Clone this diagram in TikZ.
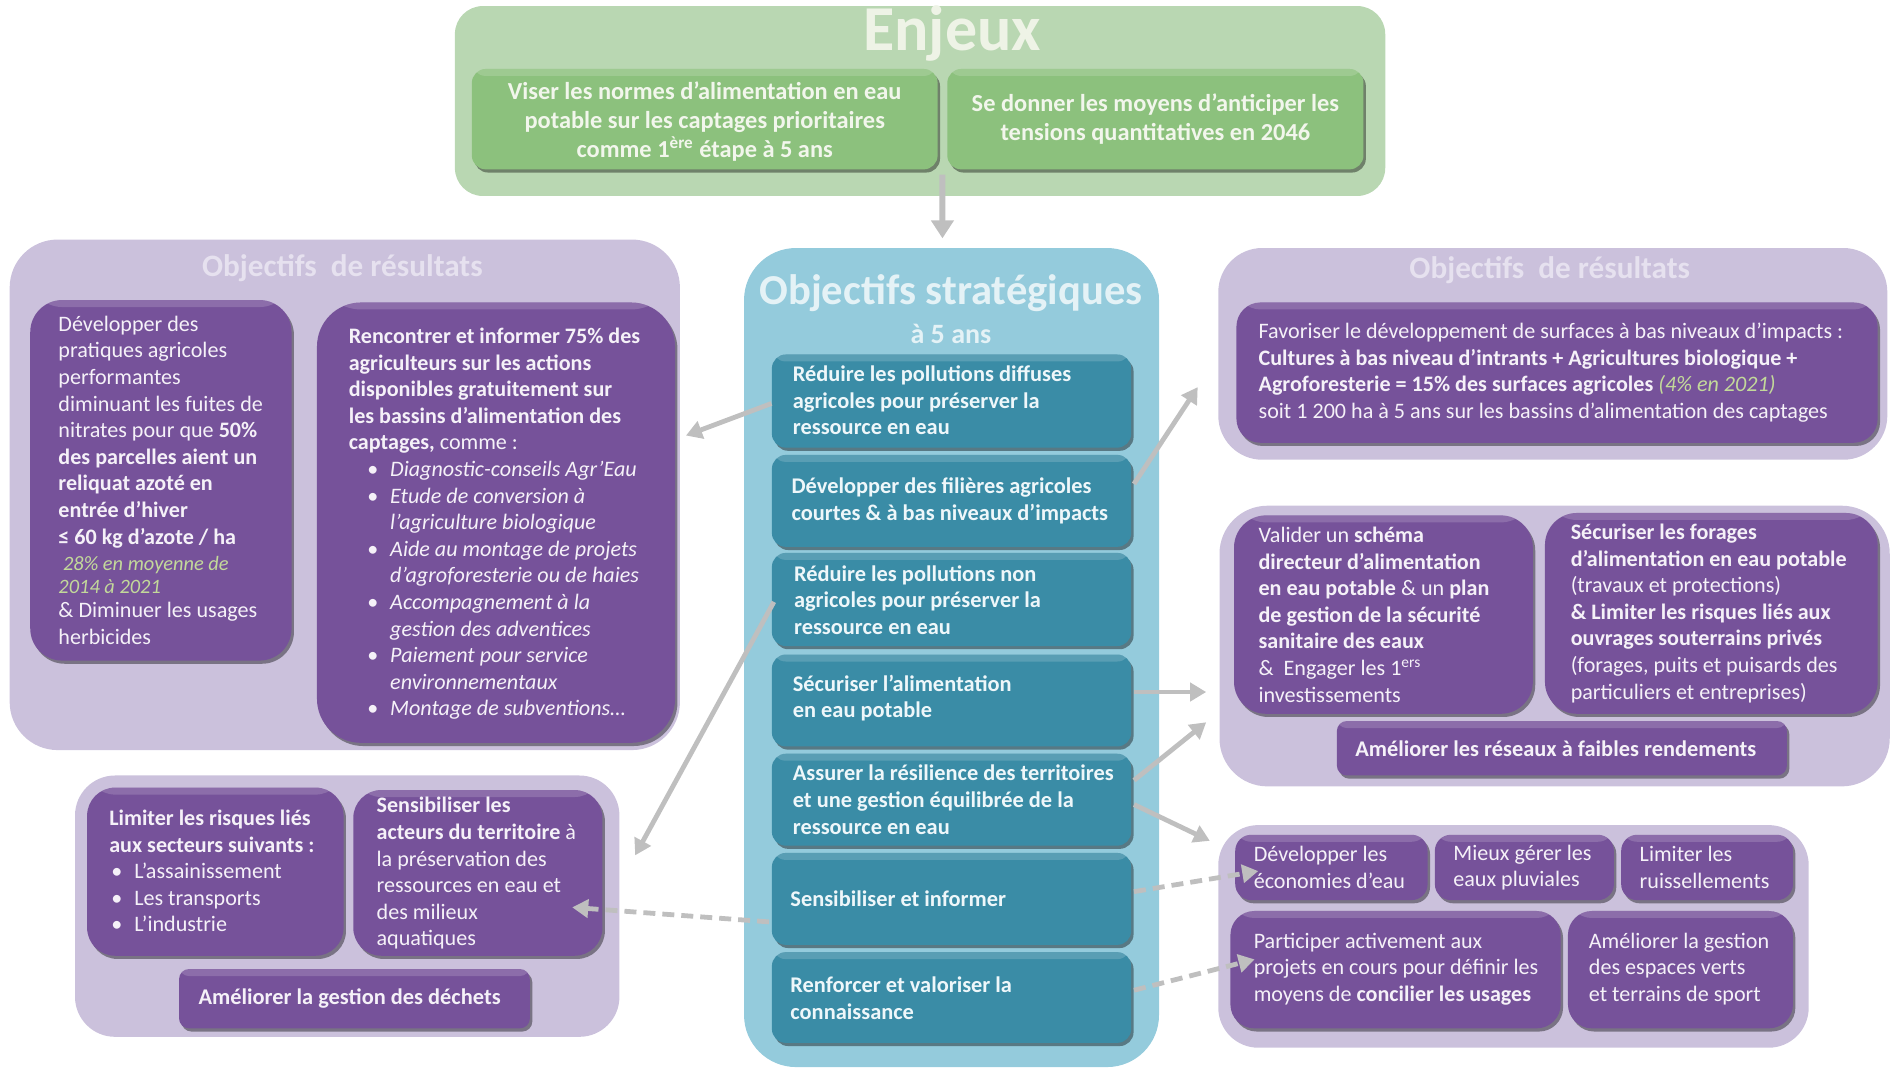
\documentclass[tikz,border=0pt]{standalone}
\usepackage{fontspec}
\setmainfont{Carlito}
\usetikzlibrary{shadows,fit,calc,arrows.meta}
\definecolor{engOut}{HTML}{B9D7B2}
\definecolor{engBox}{HTML}{8CC17D}
\definecolor{engTxt}{HTML}{F2F6EC}
\definecolor{engTtl}{HTML}{EEF3E6}
\definecolor{purOut}{HTML}{CBC1DC}
\definecolor{purBox}{HTML}{76529A}
\definecolor{purTxt}{HTML}{F5F1F8}
\definecolor{purTtl}{HTML}{E6E1EF}
\definecolor{bluOut}{HTML}{94CBDC}
\definecolor{bluBox}{HTML}{3A8CA6}
\definecolor{bluTxt}{HTML}{EEF7FA}
\definecolor{bluTtl}{HTML}{E4F2F6}
\definecolor{grn}{HTML}{C3D99A}
\definecolor{arrc}{HTML}{BFBFBF}
\newcommand\bul{\makebox[11.5pt][l]{\textbullet}}
\newcommand\bind{\hspace*{9.2pt}}
\begin{document}
\begin{tikzpicture}[x=0.6049pt, y=-0.6049pt,
  outer/.style={fill=#1, inner sep=0pt, rounded corners=16pt},
  ibox/.style={fill=#1, inner sep=0pt, rounded corners=7pt,
    drop shadow={shadow xshift=1.2pt, shadow yshift=-1.6pt, opacity=0.4, fill=black},
    path picture={\fill[white, opacity=0.16] (path picture bounding box.north west) rectangle ([yshift=-3.5pt]path picture bounding box.north east);}},
  ptxt/.style={text=purTxt, align=left, inner sep=0pt, font=\fontsize{11.05}{13.3}\selectfont},
  btxt/.style={text=bluTxt, align=left, inner sep=0pt, font=\bfseries\fontsize{11.2}{13.3}\selectfont},
  etxt/.style={text=engTxt, align=center, inner sep=0pt, font=\bfseries\fontsize{12.2}{14.5}\selectfont},
  rtitle/.style={text=purTtl, inner sep=0pt, font=\bfseries\fontsize{15.6}{18}\selectfont},
  arr/.style={draw=arrc, line width=2.4pt, -{Triangle[length=8pt,width=9pt]}},
  darr/.style={arr, dash pattern=on 6pt off 3.5pt}
]
\useasboundingbox (0,0) rectangle (1568,882);

% ---------- Enjeux ----------
\node[outer=engOut, rounded corners=14pt, fit={(376,5)(1145,162)}] (enj) {};
\node[text=engTtl, inner sep=0pt, font=\bfseries\fontsize{32}{34}\selectfont] (tenj) at (787,28) {Enjeux};
\node[ibox=engBox, fit={(390,57)(775,140)}] (e1) {};
\node[ibox=engBox, fit={(783,57)(1127,140)}] (e2) {};
\node[etxt] (e1t) at ([yshift=-1pt]e1.center) {Viser les normes d’alimentation en eau\\potable sur les captages prioritaires\\comme 1\textsuperscript{ère} étape à 5 ans};
\node[etxt] (e2t) at (e2.center) {Se donner les moyens d’anticiper les\\tensions quantitatives en 2046};

% ---------- Left results ----------
\node[outer=purOut, rounded corners=24pt, fit={(8,198)(562,620)}] (lout) {};
\node[rtitle] (tl) at (283,222) {Objectifs\ \ de résultats};
\node[ibox=purBox, rounded corners=16pt, fit={(25,248)(241,546)}] (l1) {};
\node[ibox=purBox, rounded corners=22pt, fit={(262,250)(558,614)}] (l2) {};
\node[ptxt, anchor=west] (l1t) at (48,397) {Développer des\\pratiques agricoles\\performantes\\diminuant les fuites de\\nitrates pour que \textbf{50\%}\\\textbf{des parcelles aient un}\\\textbf{reliquat azoté en}\\\textbf{entrée d’hiver}\\\textbf{≤ 60 kg d’azote / ha}\\{\color{grn}\itshape\fontsize{10.2}{11}\selectfont\ 28\% en moyenne de}\\[-2pt]{\color{grn}\itshape\fontsize{10.2}{11}\selectfont 2014 à 2021}\\[-1pt]\& Diminuer les usages\\herbicides};
\node[ptxt, anchor=west] (l2t) at (288,433) {\textbf{Rencontrer et informer 75\% des}\\\textbf{agriculteurs sur les actions}\\\textbf{disponibles gratuitement sur}\\\textbf{les bassins d’alimentation des}\\\textbf{captages,} comme :\\
\itshape\bind\bul Diagnostic-conseils Agr’Eau\\
\itshape\bind\bul Etude de conversion à\\\itshape\bind\hspace*{11.5pt}l’agriculture biologique\\
\itshape\bind\bul Aide au montage de projets\\\itshape\bind\hspace*{11.5pt}d’agroforesterie ou de haies\\
\itshape\bind\bul Accompagnement à la\\\itshape\bind\hspace*{11.5pt}gestion des adventices\\
\itshape\bind\bul Paiement pour service\\\itshape\bind\hspace*{11.5pt}environnementaux\\
\itshape\bind\bul Montage de subventions…};

% ---------- Center strategic ----------
\node[outer=bluOut, rounded corners=26pt, fit={(615,205)(958,882)}] (strat) {};
\node[text=bluTtl, inner sep=0pt, font=\bfseries\fontsize{21.3}{23}\selectfont] (tstrat) at (786,242) {Objectifs stratégiques};
\node[text=bluTtl, inner sep=0pt, font=\bfseries\fontsize{14}{16}\selectfont] (tans) at (786,276) {à 5 ans};
\node[ibox=bluBox, fit={(638,293)(935,370)}] (c1) {};
\node[ibox=bluBox, fit={(638,376)(935,452)}] (c2) {};
\node[ibox=bluBox, fit={(638,457)(935,534)}] (c3) {};
\node[ibox=bluBox, fit={(638,541)(935,617)}] (c4) {};
\node[ibox=bluBox, fit={(638,623)(935,699)}] (c5) {};
\node[ibox=bluBox, fit={(638,705)(935,781)}] (c6) {};
\node[ibox=bluBox, fit={(638,787)(935,862)}] (c7) {};
\node[btxt, anchor=west] (c1t) at (655,331) {Réduire les pollutions diffuses\\agricoles pour préserver la\\ressource en eau};
\node[btxt, anchor=west] (c2t) at (654,414) {Développer des filières agricoles\\courtes \& à bas niveaux d’impacts};
\node[btxt, anchor=west] (c3t) at (656,496) {Réduire les pollutions non\\agricoles pour préserver la\\ressource en eau};
\node[btxt, anchor=west] (c4t) at (655,577) {Sécuriser l’alimentation\\en eau potable};
\node[btxt, anchor=west] (c5t) at (655,661) {Assurer la résilience des territoires\\et une gestion équilibrée de la\\ressource en eau};
\node[btxt, anchor=west] (c6t) at (653,743) {Sensibiliser et informer};
\node[btxt, anchor=west] (c7t) at (653,825) {Renforcer et valoriser la\\connaissance};

% ---------- Right top ----------
\node[outer=purOut, rounded corners=22pt, fit={(1007,205)(1560,380)}] (rtout) {};
\node[rtitle] (trt) at (1281,223) {Objectifs\ \ de résultats};
\node[ibox=purBox, rounded corners=12pt, fit={(1022,250)(1552,366)}] (rt) {};
\node[ptxt, anchor=west] (rtt) at (1040,308) {Favoriser le développement de surfaces à bas niveaux d’impacts :\\\textbf{Cultures à bas niveau d’intrants + Agricultures biologique +}\\\textbf{Agroforesterie = 15\% des surfaces agricoles} {\color{grn}\itshape (4\% en 2021)}\\soit 1 200 ha à 5 ans sur les bassins d’alimentation des captages};

% ---------- Right middle ----------
\node[outer=purOut, rounded corners=24pt, fit={(1008,418)(1562,650)}] (rmout) {};
\node[ibox=purBox, rounded corners=16pt, fit={(1020,426)(1267,590)}] (rma) {};
\node[ibox=purBox, rounded corners=16pt, fit={(1277,424)(1552,590)}] (rmb) {};
\node[ibox=purBox, rounded corners=5pt, fit={(1105,596)(1477,641)}] (rmc) {};
\node[ptxt, anchor=west] (rmat) at (1040,508) {Valider un \textbf{schéma}\\\textbf{directeur d’alimentation}\\\textbf{en eau potable} \& un \textbf{plan}\\\textbf{de gestion de la sécurité}\\\textbf{sanitaire des eaux}\\\&\ \ Engager les 1\textsuperscript{ers}\\investissements};
\node[ptxt, anchor=west] (rmbt) at (1298,507) {\textbf{Sécuriser les forages}\\\textbf{d’alimentation en eau potable}\\(travaux et protections)\\\textbf{\& Limiter les risques liés aux}\\\textbf{ouvrages souterrains privés}\\(forages, puits et puisards des\\particuliers et entreprises)};
\node[ptxt, font=\bfseries\fontsize{11.2}{13.3}\selectfont] (rmct) at (1286,619) {Améliorer les réseaux à faibles rendements};

% ---------- Right bottom ----------
\node[outer=purOut, rounded corners=20pt, fit={(1007,682)(1495,866)}] (rbout) {};
\node[ibox=purBox, rounded corners=8pt, fit={(1021,690)(1180,744)}] (rb1) {};
\node[ibox=purBox, rounded corners=8pt, fit={(1186,690)(1334,744)}] (rb2) {};
\node[ibox=purBox, rounded corners=8pt, fit={(1340,690)(1482,744)}] (rb3) {};
\node[ibox=purBox, rounded corners=12pt, fit={(1017,753)(1290,850)}] (rb4) {};
\node[ibox=purBox, rounded corners=12pt, fit={(1296,753)(1482,850)}] (rb5) {};
\node[ptxt, anchor=west] (rb1t) at (1036,717) {Développer les\\économies d'eau};
\node[ptxt, anchor=west] (rb2t) at (1201,717) {Mieux gérer les\\eaux pluviales};
\node[ptxt, anchor=west] (rb3t) at (1355,717) {Limiter les\\ruissellements};
\node[ptxt, anchor=west] (rb4t) at (1036,801) {Participer activement aux\\projets en cours pour définir les\\moyens de \textbf{concilier les usages}};
\node[ptxt, anchor=west] (rb5t) at (1313,801) {Améliorer la gestion\\des espaces verts\\et terrains de sport};

% ---------- Bottom left ----------
\node[outer=purOut, rounded corners=20pt, fit={(62,641)(512,857)}] (blout) {};
\node[ibox=purBox, rounded corners=14pt, fit={(72,651)(284,790)}] (bla) {};
\node[ibox=purBox, rounded corners=14pt, fit={(292,653)(498,790)}] (blb) {};
\node[ibox=purBox, rounded corners=5pt, fit={(148,801)(438,850)}] (blc) {};
\node[ptxt, anchor=west] (blat) at (90,720) {\textbf{Limiter les risques liés}\\\textbf{aux secteurs suivants :}\\\hspace*{1pt}\bul L’assainissement\\\hspace*{1pt}\bul Les transports\\\hspace*{1pt}\bul L’industrie};
\node[ptxt, anchor=west] (blbt) at (311,722) {\textbf{Sensibiliser les}\\\textbf{acteurs du territoire} à\\la préservation des\\ressources en eau et\\des milieux\\aquatiques};
\node[ptxt, font=\bfseries\fontsize{11.2}{13.3}\selectfont] (blct) at (289,825) {Améliorer la gestion des déchets};

% ---------- Connectors ----------
\coordinate (a0e) at (779,197);
\coordinate (a1e) at (567,360);
\coordinate (a2e) at (525,707);
\coordinate (a3e) at (473,750);
\coordinate (a4e) at (990,320);
\coordinate (a5e) at (997,572);
\coordinate (a6e) at (997,597);
\coordinate (a7e) at (1000,695);
\coordinate (a8e) at (1040,720);
\coordinate (a9e) at (1037,793);
\draw[arr, line width=3pt, -{Triangle[length=9pt,width=11pt]}] ($(e1.south east)!.5!(e2.south west)+(0,4)$) -- (a0e);
\draw[arr] ($(c1.west)+(0,2)$) -- (a1e);
\draw[arr] ($(c3.west)+(2,2)$) -- (a2e);
\draw[darr] ($(c6.west)+(-2,19)$) -- (a3e);
\draw[arr] ($(c2.east)+(2,-14)$) -- (a4e);
\draw[arr] ($(c4.east)+(2,-7)$) -- (a5e);
\draw[arr] ($(c5.east)+(2,-16)$) -- (a6e);
\draw[arr] ($(c5.east)+(2,4)$) -- (a7e);
\draw[darr] ($(c6.east)+(2,-6)$) -- (a8e);
\draw[darr] ($(c7.east)+(2,-6)$) -- (a9e);
\end{tikzpicture}
\end{document}
